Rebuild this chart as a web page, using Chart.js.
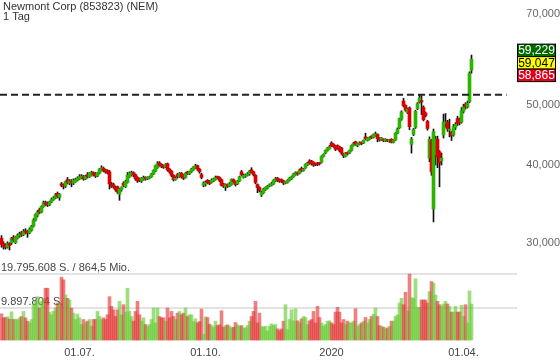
<!DOCTYPE html>
<html lang="de">
<head>
    <meta charset="UTF-8">
    <title>Newmont Corp (853823) (NEM) - 1 Tag</title>
    <script src="https://cdn.jsdelivr.net/npm/chart.js"></script>
    <style>
        html, body { margin: 0; padding: 0; background: #fff; }
        #wrap { width: 560px; height: 363px; }
    </style>
</head>
<body>
    <div id="wrap"><canvas id="chart" width="560" height="363"></canvas></div>

    <script>
        // Daily candles (EUR)
        const opens = [
            30.5,29.9,29.7,29.5,29.9,30.0,30.6,30.0,30.5,30.8,
            31.1,30.9,31.3,31.3,31.1,31.4,31.9,32.6,33.2,33.9,
            33.6,34.3,34.8,34.7,34.5,34.9,35.2,35.4,36.0,35.5,
            37.3,37.1,37.0,37.9,37.4,37.7,37.4,37.6,37.8,38.0,
            38.1,38.3,38.0,38.6,38.3,38.5,38.9,38.7,38.4,38.8,
            39.2,39.5,39.3,39.2,39.0,37.3,37.2,36.8,36.9,35.9,
            36.5,37.4,36.9,37.5,38.3,38.6,38.9,38.6,38.2,38.0,
            37.7,37.9,38.2,38.0,38.1,38.3,38.7,39.1,39.6,40.3,
            40.1,39.9,39.7,40.2,39.4,39.1,38.5,37.9,38.6,38.3,
            38.8,38.5,38.2,39.0,38.7,39.0,39.3,39.6,39.9,39.4,
            38.6,37.1,37.3,37.8,37.6,37.5,37.7,37.9,38.3,38.2,
            37.9,37.3,36.9,37.2,37.0,37.2,37.9,37.6,37.3,37.7,
            39.0,38.2,38.4,38.5,38.7,39.3,39.0,38.5,37.2,36.8,
            35.8,36.1,36.5,36.7,37.0,37.1,37.3,37.7,38.1,37.9,
            37.9,37.7,37.4,37.5,37.8,38.0,38.3,38.6,38.9,38.8,
            39.5,39.2,39.6,40.0,40.6,40.6,40.4,40.2,40.3,40.3,
            40.4,41.3,41.8,42.2,42.5,43.4,43.2,42.9,43.0,42.8,
            42.6,41.7,41.3,41.9,41.8,42.2,43.0,43.6,43.0,43.2,
            43.5,43.4,44.4,43.8,44.0,44.5,44.3,44.6,44.8,44.2,
            43.9,44.0,43.7,43.9,43.7,44.0,43.5,43.9,45.0,45.9,
            47.4,50.7,49.9,48.6,49.4,43.2,44.8,46.0,49.3,50.5,
            50.8,49.5,48.5,47.0,41.0,43.8,34.0,41.5,44.0,42.0,
            40.6,44.7,46.7,46.9,45.5,45.1,44.7,46.0,47.5,47.2,
            46.9,48.8,50.1,49.6,50.6,56.8
        ];
        const highs = [
            30.8,30.1,29.9,30.1,30.0,30.6,30.8,30.7,31.0,31.2,
            31.3,31.5,31.6,31.4,31.7,32.0,32.8,33.4,33.8,34.1,
            34.4,35.0,35.0,34.9,35.0,35.4,35.6,36.0,36.2,36.0,
            37.5,37.3,37.7,38.2,37.9,37.9,38.0,38.1,38.3,38.6,
            38.6,38.5,38.5,38.9,38.9,39.1,39.0,38.9,38.9,39.5,
            39.9,39.7,39.4,39.3,39.2,37.5,37.4,37.0,37.0,36.7,
            36.9,37.6,37.8,38.9,39.0,39.1,39.0,38.7,38.3,38.1,
            38.2,38.4,38.3,38.3,38.4,38.8,39.3,40.0,40.5,40.5,
            40.2,40.0,40.2,40.3,39.5,39.2,38.6,38.3,38.8,38.9,
            38.9,38.6,38.9,39.1,39.1,39.5,39.8,40.1,40.0,39.5,
            38.8,37.6,37.7,37.9,37.8,38.0,38.1,38.4,38.4,38.3,
            38.0,37.4,37.3,37.3,37.5,38.0,38.0,37.7,37.8,38.4,
            39.2,38.7,38.7,38.9,39.2,39.6,39.1,38.6,37.3,36.9,
            36.3,36.7,36.9,37.1,37.3,37.5,37.9,38.2,38.2,38.0,
            38.0,37.8,37.6,37.9,38.2,38.4,38.8,39.0,39.0,39.4,
            39.7,39.5,40.2,40.4,40.8,40.7,40.5,40.3,40.4,40.4,
            41.4,41.7,42.3,42.7,43.0,43.6,43.3,43.0,43.1,42.9,
            42.7,41.8,41.9,42.0,42.3,43.1,43.5,43.7,43.4,43.6,
            43.6,43.9,45.0,44.3,44.4,44.6,44.9,45.2,44.9,44.3,
            44.3,44.1,44.1,44.0,44.0,44.1,43.9,45.1,45.9,47.6,
            48.9,51.2,50.0,49.4,49.6,44.3,45.8,49.0,50.4,51.9,
            51.7,49.8,48.7,47.2,44.4,44.0,45.7,44.5,44.5,42.2,
            41.8,48.3,48.4,47.2,47.4,45.3,46.5,46.8,47.9,47.6,
            49.5,50.1,50.4,50.7,56.5,60.1
        ];
        const lows = [
            29.5,29.3,29.3,29.4,29.2,29.8,30.1,29.9,30.4,30.6,
            30.7,30.8,31.0,30.6,31.0,31.3,31.8,32.5,33.0,33.4,
            33.5,34.2,34.4,34.3,34.4,34.8,35.1,35.3,35.4,35.1,
            36.9,36.6,36.8,37.3,37.2,36.9,37.2,37.5,37.7,37.9,
            38.0,37.8,37.9,38.1,38.2,38.4,38.4,38.2,38.3,38.7,
            39.1,39.0,38.8,38.7,36.6,36.8,36.7,36.3,36.0,35.1,
            36.3,36.9,36.8,37.4,38.2,38.4,38.3,37.8,37.5,37.6,
            37.5,37.8,37.8,37.9,38.0,38.2,38.6,39.0,39.5,39.8,
            39.6,39.5,39.6,39.1,38.8,38.3,37.7,37.8,38.1,38.2,
            38.1,37.9,38.1,38.6,38.6,38.9,39.2,39.5,39.2,38.8,
            38.0,36.9,37.0,37.3,37.2,37.4,37.6,37.8,38.0,37.6,
            37.0,36.8,36.4,36.8,36.9,37.1,37.4,37.0,37.2,37.6,
            38.4,38.1,38.2,38.4,38.5,38.8,38.4,37.3,36.1,36.2,
            35.6,36.0,36.4,36.6,36.9,37.0,37.2,37.6,37.6,37.5,
            37.5,37.2,37.3,37.4,37.7,37.9,38.2,38.5,38.5,38.7,
            39.0,39.1,39.5,39.9,40.1,40.0,39.8,39.9,39.9,40.0,
            40.3,41.2,41.7,42.1,42.4,42.8,42.7,42.2,42.4,42.0,
            41.6,41.1,41.2,41.5,41.7,42.1,42.9,43.0,42.8,43.1,
            43.1,43.3,43.9,43.7,43.9,44.1,44.2,44.5,43.6,43.7,
            43.8,43.6,43.6,43.6,43.5,43.4,43.4,43.8,44.9,45.8,
            47.2,49.6,48.8,48.4,45.6,41.8,44.6,45.8,49.1,50.3,
            48.2,47.1,47.8,45.5,40.5,38.5,32.4,40.0,39.6,36.9,
            40.0,44.2,46.0,45.3,44.4,43.8,44.5,45.6,46.3,46.4,
            46.7,48.5,49.2,49.4,50.4,56.2
        ];
        const closes = [
            29.8,29.6,29.5,29.9,29.7,30.5,30.3,30.6,30.8,31.0,
            30.9,31.3,31.2,31.1,31.5,31.9,32.6,33.3,33.6,33.6,
            34.3,34.8,34.6,34.5,34.9,35.2,35.4,35.8,35.6,35.9,
            37.1,37.0,37.6,37.5,37.7,37.5,37.8,37.9,38.1,38.3,
            38.4,38.0,38.4,38.3,38.8,38.9,38.6,38.4,38.8,39.4,
            39.6,39.2,39.0,38.9,37.3,37.0,36.9,36.5,36.2,36.6,
            36.8,37.1,37.6,38.5,38.8,38.9,38.6,38.0,37.7,37.8,
            38.1,38.2,38.0,38.2,38.3,38.7,39.2,39.9,40.2,39.9,
            39.8,39.7,40.1,39.3,39.0,38.5,37.9,38.1,38.3,38.8,
            38.3,38.1,38.8,38.8,39.0,39.4,39.7,39.9,39.4,39.0,
            38.2,37.4,37.5,37.5,37.4,37.8,38.0,38.2,38.2,37.8,
            37.1,37.0,37.2,37.0,37.3,37.9,37.6,37.2,37.7,38.3,
            38.6,38.5,38.5,38.7,39.1,38.9,38.6,37.5,36.8,36.4,
            36.1,36.6,36.8,37.0,37.2,37.3,37.8,38.0,37.8,37.7,
            37.7,37.4,37.5,37.8,38.1,38.3,38.7,38.9,38.7,39.3,
            39.2,39.4,40.1,40.3,40.3,40.2,40.0,40.1,40.1,40.2,
            41.3,41.6,42.2,42.6,42.8,42.9,42.9,42.4,42.6,42.2,
            41.8,41.4,41.8,41.7,42.2,43.0,43.3,43.2,43.3,43.4,
            43.3,43.8,44.1,44.2,44.3,44.3,44.8,44.9,44.1,43.9,
            44.2,43.8,44.0,43.8,43.9,43.5,43.8,45.0,45.7,47.5,
            48.7,49.8,49.0,49.2,46.1,44.0,45.6,48.8,50.2,51.3,
            50.5,47.3,48.0,45.8,44.0,39.0,45.3,44.0,41.2,40.3,
            41.0,46.9,46.9,45.7,45.6,44.6,46.1,46.5,46.7,46.8,
            48.9,49.6,49.6,50.3,56.2,59.2
        ];
        // Volume in millions of shares
        const volumes = [
            8.1,6.9,7.0,7.2,6.5,8.7,6.4,6.5,6.3,6.9,
            7.3,8.8,6.9,5.9,5.4,6.4,10.8,11.8,13.2,9.8,
            11.8,12.7,15.7,15.7,8.6,7.8,8.8,9.8,11.3,11.3,
            19.0,18.2,13.7,12.7,12.2,9.8,8.3,6.4,8.0,6.9,
            4.9,6.4,5.4,5.9,6.4,4.4,6.4,6.4,8.8,7.3,
            6.4,6.9,6.4,7.8,13.2,10.3,9.3,7.3,9.3,11.8,
            7.8,10.8,8.6,15.7,8.8,7.3,5.9,8.8,11.8,7.8,
            5.9,6.9,4.9,4.4,4.9,6.4,9.8,5.4,9.8,7.3,
            6.9,6.9,5.9,9.8,6.9,8.8,7.3,6.4,8.3,8.8,
            7.8,8.3,9.8,7.3,7.8,7.8,5.8,6.6,5.4,5.8,
            9.5,2.0,7.2,7.0,5.0,4.6,4.1,5.9,4.6,4.8,
            9.0,4.1,4.6,4.8,4.4,3.9,4.1,5.5,4.8,4.4,
            4.6,3.9,3.9,4.6,5.9,7.3,8.8,11.8,5.4,8.3,
            4.4,4.1,4.4,3.0,4.4,5.1,4.6,4.9,3.6,3.1,
            3.6,5.9,10.8,3.4,6.4,9.3,6.0,9.6,6.0,5.4,
            6.6,7.3,7.0,4.9,6.0,6.4,8.8,5.4,10.3,7.0,
            5.4,4.4,4.9,5.9,6.0,5.4,4.9,8.6,10.0,8.6,
            5.4,6.4,4.9,5.9,5.4,5.4,5.9,9.6,4.4,4.9,
            5.4,5.9,7.0,5.4,6.4,7.3,8.0,9.8,7.3,4.6,
            4.4,4.1,3.6,3.9,4.4,5.9,5.9,7.3,7.8,11.3,
            12.7,10.8,14.5,9.0,19.9,12.9,12.7,18.5,10.0,10.0,
            12.2,12.2,12.2,11.3,14.7,17.7,17.2,13.7,11.8,10.8,
            10.3,11.0,11.8,11.0,10.3,8.6,8.6,10.3,8.6,8.6,
            10.6,7.3,10.8,5.4,14.9,11.0
        ];

        const xTickIdx = [39, 102, 165, 231];       // candle index under each date label
        const xTickLabels = ["01.07.", "01.10.", "2020", "01.04."];
        const yTickVals = [30, 40, 50, 70];
        const yTickLabels = ["30,000", "40,000", "50,000", "70,000"];
        const resistance = [51.9];                    // dashed line level
        const volGrid = [0, 9.897804, 19.795608];     // volume grid lines (mio.)
        const volLabels = ["", "9.897.804 S.", "19.795.608 S. / 864,5 Mio."];
        const quoteValues = [59.229, 59.047, 58.865];
        const quoteLabels = ["59,229", "59,047", "58,865"];
        const titleLines = ["Newmont Corp (853823) (NEM)", "1 Tag"];

        const GREEN = "#2db400";
        const RED = "#dd0000";
        const VOL_GREEN = "rgba(95, 200, 40, 0.6)";
        const VOL_RED = "rgba(225, 45, 45, 0.6)";

        Chart.defaults.font.family = 'Arial, "Liberation Sans", sans-serif';

        let up = closes.map((c, i) => c >= opens[i]);

        // title, volume captions and the quote boxes on the right
        const overlay = {
            id: "overlay",
            beforeDatasetsDraw(chart) {
                let ctx = chart.ctx, yv = chart.scales.yv;
                ctx.save();
                ctx.font = '11px Arial, "Liberation Sans", sans-serif';
                ctx.fillStyle = "#444";
                ctx.textAlign = "left";
                ctx.textBaseline = "alphabetic";
                volGrid.forEach((v, i) => {
                    if (volLabels[i]) ctx.fillText(volLabels[i], 1, yv.getPixelForValue(v) - 3);
                });
                ctx.restore();
            },
            afterDraw(chart) {
                let ctx = chart.ctx, y = chart.scales.y, area = chart.chartArea;
                ctx.save();
                ctx.font = '11px Arial, "Liberation Sans", sans-serif';
                ctx.fillStyle = "#333";
                ctx.textAlign = "left";
                ctx.textBaseline = "alphabetic";
                ctx.fillText(titleLines[0], 3, 10);
                ctx.fillText(titleLines[1], 3, 20);

                let h = 12.5, w = 38, left = Math.round(area.right) + 0.5;
                let midTop = y.getPixelForValue(quoteValues[1]) + 3 - h / 2;
                let fills = ["#006a00", "#ffff00", "#e0001a"];
                let inks = ["#fff", "#000", "#fff"];
                ctx.font = '12px Arial, "Liberation Sans", sans-serif';
                ctx.textAlign = "center";
                ctx.textBaseline = "middle";
                quoteLabels.forEach((t, i) => {
                    let top = midTop + (i - 1) * h;
                    ctx.fillStyle = fills[i];
                    ctx.fillRect(left, top, w, h);
                    ctx.strokeStyle = "#000";
                    ctx.lineWidth = 1;
                    ctx.strokeRect(left, top, w, h);
                    ctx.fillStyle = inks[i];
                    ctx.fillText(t, left + w / 2, top + h / 2 + 0.5);
                });
                ctx.restore();
            }
        };

        new Chart(document.getElementById("chart"), {
            type: "bar",
            data: {
                datasets: [
                    {
                        type: "line",
                        label: "Widerstand",
                        data: [{ x: -0.75, y: resistance[0] }, { x: 252.5, y: resistance[0] }],
                        yAxisID: "y",
                        borderColor: "#222",
                        borderWidth: 2,
                        borderDash: [7, 4],
                        pointRadius: 0,
                        order: 0
                    },
                    {
                        label: "Kerze",
                        data: closes.map((c, i) => ({ x: i, y: [opens[i], c] })),
                        yAxisID: "y",
                        backgroundColor: up.map(u => u ? GREEN : RED),
                        barThickness: 3,
                        minBarLength: 1,
                        grouped: false,
                        order: 1
                    },
                    {
                        label: "Docht",
                        data: highs.map((hi, i) => ({ x: i, y: [lows[i], hi] })),
                        yAxisID: "y",
                        backgroundColor: "#111",
                        barThickness: 1,
                        grouped: false,
                        order: 2
                    },
                    {
                        label: "Volumen",
                        data: volumes.map((v, i) => ({ x: i, y: v })),
                        yAxisID: "yv",
                        backgroundColor: up.map(u => u ? VOL_GREEN : VOL_RED),
                        barThickness: 3,
                        grouped: false,
                        order: 3
                    }
                ]
            },
            options: {
                responsive: false,
                animation: false,
                devicePixelRatio: 1,
                layout: { padding: 0 },
                plugins: { legend: { display: false }, tooltip: { enabled: false } },
                scales: {
                    x: {
                        type: "linear",
                        min: -0.75,
                        max: 257.75,
                        bounds: "data",
                        offset: false,
                        grid: { display: false, drawTicks: false },
                        border: { display: false },
                        ticks: {
                            autoSkip: false,
                            maxRotation: 0,
                            padding: 5,
                            color: "#444",
                            font: { size: 11 },
                            callback: v => xTickLabels[xTickIdx.indexOf(v)] || ""
                        },
                        afterBuildTicks: s => { s.ticks = xTickIdx.map(v => ({ value: v })); },
                        afterFit: s => { s.height = 22; s.paddingLeft = 0; s.paddingRight = 0; }
                    },
                    y: {
                        type: "logarithmic",
                        position: "right",
                        stack: "panels",
                        stackWeight: 262,
                        min: 27.93,
                        max: 73.7,
                        bounds: "data",
                        grid: { display: false, drawTicks: false },
                        border: { display: false },
                        ticks: {
                            padding: 4,
                            crossAlign: "far",
                            color: "#666",
                            font: { size: 11 },
                            callback: v => yTickLabels[yTickVals.indexOf(v)] || ""
                        },
                        afterBuildTicks: s => { s.ticks = yTickVals.map(v => ({ value: v })); },
                        afterFit: s => { s.width = 43; s.paddingTop = 0; s.paddingBottom = 0; }
                    },
                    yv: {
                        type: "linear",
                        position: "right",
                        stack: "panels",
                        stackWeight: 79,
                        min: 0,
                        max: 23.5,
                        bounds: "data",
                        grid: {
                            drawTicks: false,
                            lineWidth: 2,
                            color: c => (c.tick && c.tick.value === 0) ? "rgba(0,0,0,0)" : "#e3e3e3"
                        },
                        border: { display: false },
                        ticks: { display: false },
                        afterBuildTicks: s => { s.ticks = volGrid.map(v => ({ value: v })); },
                        afterFit: s => { s.width = 43; s.paddingTop = 0; s.paddingBottom = 0; }
                    }
                }
            },
            plugins: [overlay]
        });
    </script>
</body>
</html>
